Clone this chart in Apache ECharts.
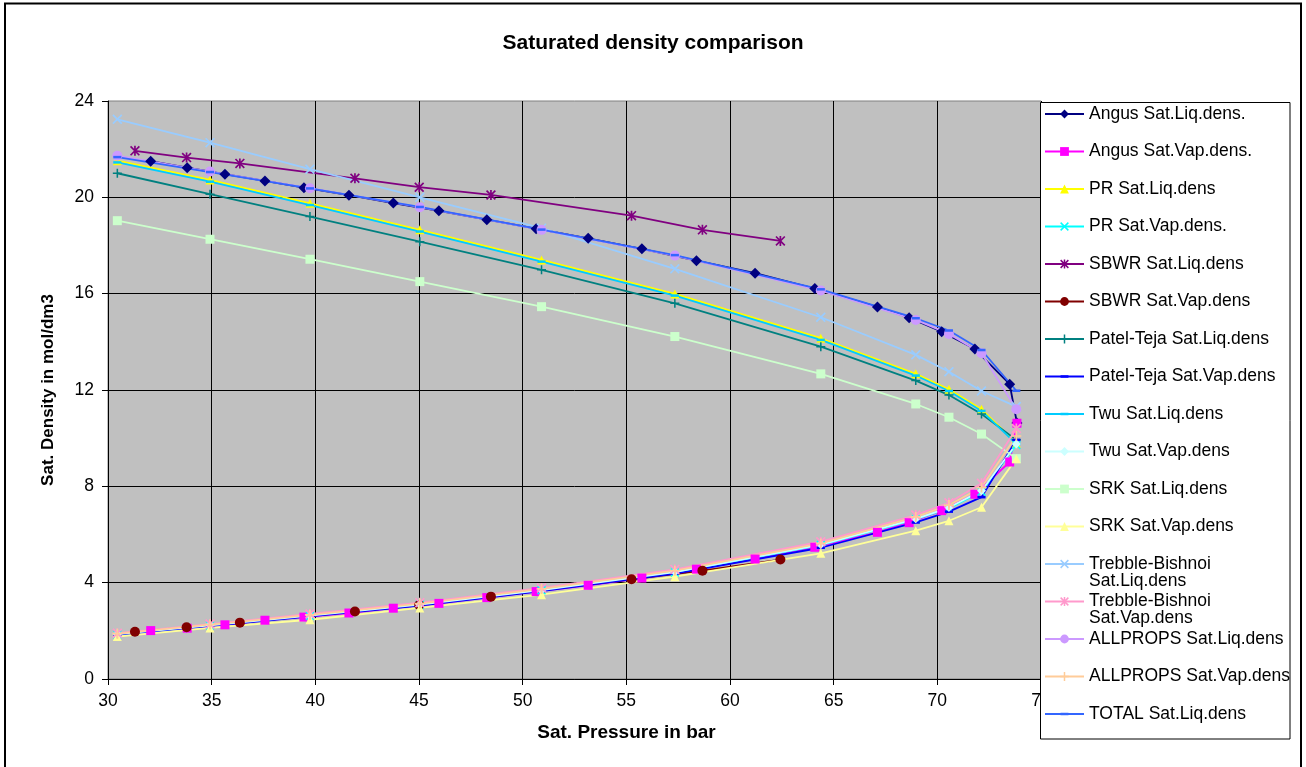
<!DOCTYPE html>
<html>
<head>
<meta charset="utf-8">
<script src="https://cdn.jsdelivr.net/npm/echarts@6/dist/echarts.min.js"></script>
<style>
html,body{margin:0;padding:0;background:#fff;}
#chart{width:1306px;height:767px;}
</style>
</head>
<body>
<div id="chart"></div>
<script>
// Saturation pressures (bar) at which each model was evaluated
var pAngus = [32.06, 33.82, 35.64, 37.57, 39.45, 41.62, 43.76, 45.96, 48.27, 50.65, 53.16, 55.75, 58.38, 61.21, 64.09, 67.11, 68.64, 70.21, 71.81, 73.49, 73.84];
var pSBWR  = [31.30, 33.79, 36.36, 41.91, 45.01, 48.47, 55.25, 58.67, 62.43];
var pEos   = [30.45, 34.92, 39.74, 45.04, 50.91, 57.34, 64.38, 68.96, 70.56, 72.13, 73.81];

// Saturated densities (mol/dm3)
var angusLiq = [21.50, 21.23, 20.96, 20.68, 20.40, 20.09, 19.76, 19.44, 19.07, 18.70, 18.30, 17.86, 17.37, 16.85, 16.21, 15.45, 15.00, 14.42, 13.70, 12.24, 10.63];
var angusVap = [2.01, 2.11, 2.25, 2.44, 2.57, 2.74, 2.94, 3.14, 3.38, 3.63, 3.89, 4.19, 4.56, 4.98, 5.47, 6.09, 6.49, 6.99, 7.67, 9.01, 10.62];
var prLiq    = [21.52, 20.72, 19.75, 18.65, 17.40, 15.99, 14.15, 12.67, 12.03, 11.20, 9.79];
var prVap    = [1.85, 2.22, 2.62, 3.08, 3.68, 4.42, 5.56, 6.63, 7.09, 7.78, 9.72];
var sbwrLiq  = [21.93, 21.65, 21.41, 20.79, 20.42, 20.10, 19.24, 18.65, 18.19];
var sbwrVap  = [1.96, 2.15, 2.34, 2.80, 3.07, 3.42, 4.14, 4.50, 4.96];
var ptLiq    = [21.00, 20.13, 19.20, 18.16, 16.99, 15.60, 13.80, 12.39, 11.79, 11.00, 9.93];
var ptVap    = [1.84, 2.20, 2.60, 3.05, 3.65, 4.38, 5.45, 6.50, 6.95, 7.55, 9.93];
var twuLiq   = [21.45, 20.65, 19.68, 18.58, 17.33, 15.92, 14.08, 12.60, 11.96, 11.13, 9.76];
var twuVap   = [1.86, 2.23, 2.63, 3.09, 3.69, 4.44, 5.58, 6.65, 7.12, 7.82, 9.76];
var srkLiq   = [19.03, 18.26, 17.43, 16.50, 15.46, 14.22, 12.67, 11.42, 10.87, 10.17, 9.15];
var srkVap   = [1.76, 2.12, 2.46, 2.95, 3.50, 4.25, 5.22, 6.16, 6.57, 7.13, 9.15];
var tbLiq    = [23.24, 22.27, 21.17, 20.00, 18.72, 17.03, 15.02, 13.46, 12.76, 11.96, 11.31];
var tbVap    = [1.90, 2.28, 2.70, 3.17, 3.78, 4.55, 5.70, 6.81, 7.32, 8.13, 10.40];
var apLiq    = [21.73, 21.07, 20.38, 19.59, 18.65, 17.58, 16.13, 14.91, 14.33, 13.53, 11.20];
var apVap    = [1.88, 2.26, 2.66, 3.13, 3.74, 4.50, 5.63, 6.73, 7.22, 7.95, 10.09];
var totalLiq = [21.67, 21.05, 20.37, 19.60, 18.66, 17.60, 16.18, 14.98, 14.47, 13.66, 11.97];

// Axis ticks
var xTicks = [30, 35, 40, 45, 50, 55, 60, 65, 70, 75];
var yTicks = [0, 4, 8, 12, 16, 20, 24];

// Marker shapes
var SYM_X = 'path://M0 1.2L1.2 0L10 8.8L8.8 10Z M8.8 0L10 1.2L1.2 10L0 8.8Z';
var SYM_STAR = SYM_X + ' M4.15 0H5.85V10H4.15Z';
var SYM_PLUS = 'path://M4.15 0H5.85V4.15H10V5.85H5.85V10H4.15V5.85H0V4.15H4.15Z';
var SYM_DASH = 'path://M0 0M10 10M0.5 3.6H9.5V6.4H0.5Z';

function pairs(xs, ys) {
  return xs.map(function (x, i) { return [x, ys[i]]; });
}

function line(name, xs, ys, color, symbol, size) {
  return {
    name: name,
    type: 'line',
    data: pairs(xs, ys),
    symbol: symbol,
    symbolSize: size,
    showAllSymbol: true,
    lineStyle: { color: color, width: 1.8 },
    itemStyle: { color: color, borderWidth: 0 },
    emphasis: { disabled: true },
    animation: false
  };
}

var series = [
  line('Angus Sat.Liq.dens.', pAngus, angusLiq, '#000080', 'diamond', 11),
  line('Angus Sat.Vap.dens.', pAngus, angusVap, '#FF00FF', 'rect', 9),
  line('PR Sat.Liq.dens', pEos, prLiq, '#FFFF00', 'triangle', 9),
  line('PR Sat.Vap.dens.', pEos, prVap, '#00FFFF', SYM_X, 9),
  line('SBWR Sat.Liq.dens', pSBWR, sbwrLiq, '#800080', SYM_STAR, 10),
  line('SBWR Sat.Vap.dens', pSBWR, sbwrVap, '#800000', 'circle', 10),
  line('Patel-Teja Sat.Liq.dens', pEos, ptLiq, '#008080', SYM_PLUS, 9),
  line('Patel-Teja Sat.Vap.dens', pEos, ptVap, '#0000FF', SYM_DASH, 9),
  line('Twu Sat.Liq.dens', pEos, twuLiq, '#00CCFF', SYM_DASH, 9),
  line('Twu Sat.Vap.dens', pEos, twuVap, '#CCFFFF', 'diamond', 9),
  line('SRK Sat.Liq.dens', pEos, srkLiq, '#CCFFCC', 'rect', 9),
  line('SRK Sat.Vap.dens', pEos, srkVap, '#FFFF99', 'triangle', 9),
  line('Trebble-Bishnoi Sat.Liq.dens', pEos, tbLiq, '#99CCFF', SYM_X, 10),
  line('Trebble-Bishnoi Sat.Vap.dens', pEos, tbVap, '#FF99CC', SYM_STAR, 10),
  line('ALLPROPS Sat.Liq.dens', pEos, apLiq, '#CC99FF', 'circle', 10),
  line('ALLPROPS Sat.Vap.dens', pEos, apVap, '#FFCC99', SYM_PLUS, 10),
  line('TOTAL Sat.Liq.dens', pEos, totalLiq, '#3366FF', SYM_DASH, 9)
];

// Long names wrap onto a second line in the legend
var legendWrap = {
  'Trebble-Bishnoi Sat.Liq.dens': ['Trebble-Bishnoi', 'Sat.Liq.dens'],
  'Trebble-Bishnoi Sat.Vap.dens': ['Trebble-Bishnoi', 'Sat.Vap.dens']
};

var FONT = 'Liberation Sans, Arial, sans-serif';

var chart = echarts.init(document.getElementById('chart'), null, { renderer: 'canvas' });
chart.setOption({
  animation: false,
  backgroundColor: '#ffffff',
  textStyle: { fontFamily: FONT, color: '#000' },
  title: {
    text: 'Saturated density comparison',
    left: 'center',
    top: 28,
    textStyle: { fontFamily: FONT, fontSize: 21, fontWeight: 'bold', color: '#000', lineHeight: 21 }
  },
  graphic: [
    {
      // outer chart frame
      type: 'rect',
      silent: true,
      z: 100,
      shape: { x: 5, y: 3.5, width: 1296, height: 800 },
      style: { fill: null, stroke: '#000', lineWidth: 2 }
    },
    {
      // legend panel, drawn above the plot and below the legend entries
      type: 'rect',
      silent: true,
      z: 3,
      shape: { x: 1040.5, y: 102.5, width: 249.5, height: 636.5 },
      style: { fill: '#ffffff', stroke: '#000', lineWidth: 1 }
    }
  ],
  grid: {
    left: 108, right: 265, top: 101, bottom: 88,
    show: true,
    backgroundColor: '#C0C0C0',
    borderColor: '#808080',
    borderWidth: 1,
    containLabel: false
  },
  xAxis: {
    type: 'value',
    min: xTicks[0],
    max: xTicks[xTicks.length - 1],
    interval: 5,
    name: 'Sat. Pressure in bar',
    nameLocation: 'middle',
    nameGap: 44,
    nameTextStyle: { fontFamily: FONT, fontSize: 19, fontWeight: 'bold', color: '#000', padding: [0, 0, 0, 104] },
    axisLine: { onZero: false, lineStyle: { color: '#000', width: 1 } },
    axisTick: { show: true, length: 6, lineStyle: { color: '#000' } },
    axisLabel: { fontFamily: FONT, fontSize: 17.5, color: '#000', margin: 13 },
    splitLine: { show: true, lineStyle: { color: '#000', width: 1 } }
  },
  yAxis: {
    type: 'value',
    min: yTicks[0],
    max: yTicks[yTicks.length - 1],
    interval: 4,
    name: 'Sat. Density in mol/dm3',
    nameLocation: 'middle',
    nameRotate: 90,
    nameGap: 51,
    nameTextStyle: { fontFamily: FONT, fontSize: 17, fontWeight: 'bold', color: '#000' },
    axisLine: { onZero: false, lineStyle: { color: '#000', width: 1 } },
    axisTick: { show: true, length: 6, lineStyle: { color: '#000' } },
    axisLabel: { fontFamily: FONT, fontSize: 17.5, color: '#000', margin: 14 },
    splitLine: { show: true, showMaxLine: false, lineStyle: { color: '#000', width: 1 } }
  },
  legend: {
    orient: 'vertical',
    left: 1044,
    top: 88,
    padding: 0,
    itemGap: -14.5,
    itemWidth: 39,
    itemHeight: 11,
    backgroundColor: 'transparent',
    borderWidth: 0,
    selectedMode: false,
    data: series.map(function (s) { return s.name; }),
    // three-line label block (blank, name, continuation) keeps the name beside its icon
    formatter: function (name) {
      var parts = legendWrap[name] || [name, ' '];
      return ' \n' + parts[0] + '\n' + parts[1];
    },
    textStyle: { fontFamily: FONT, fontSize: 17.5, color: '#000', lineHeight: 17 }
  },
  series: series
});
</script>
</body>
</html>
